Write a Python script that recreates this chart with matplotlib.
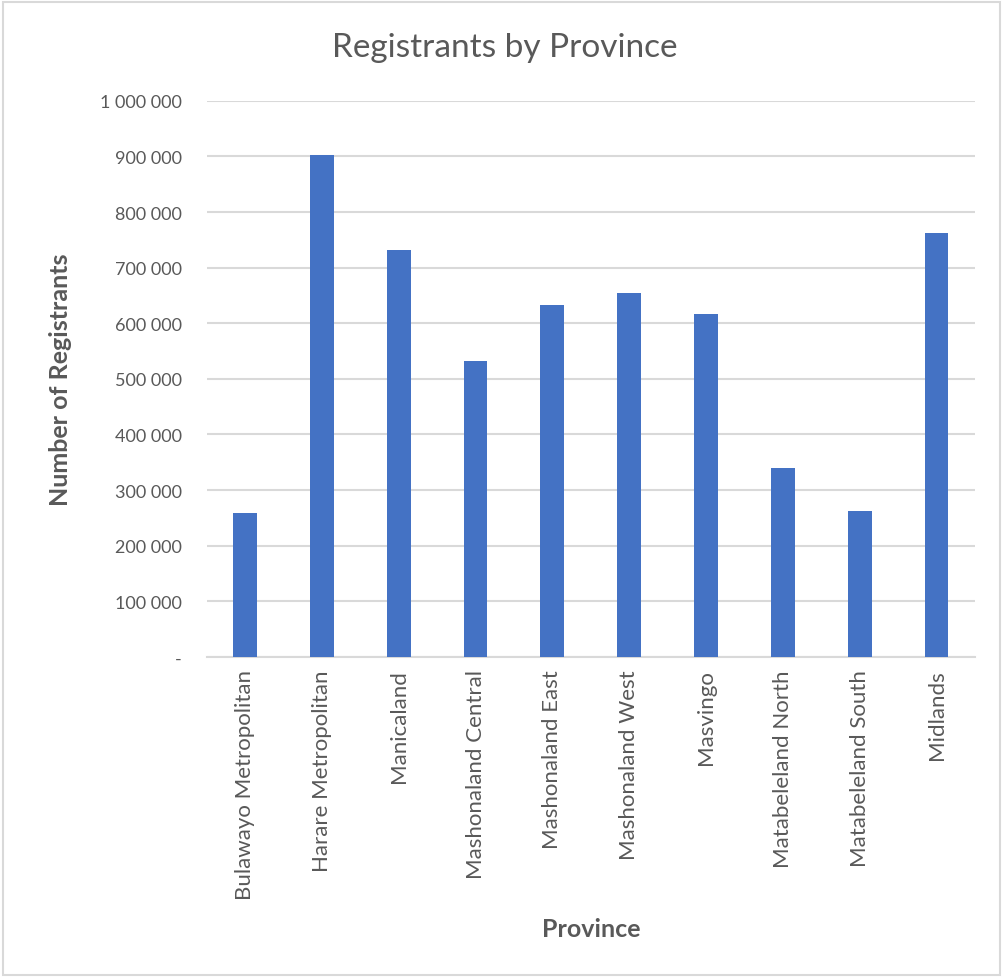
import matplotlib.pyplot as plt
from matplotlib.patches import Rectangle
from matplotlib.ticker import FuncFormatter

provinces = ["Bulawayo Metropolitan", "Harare Metropolitan", "Manicaland",
             "Mashonaland Central", "Mashonaland East", "Mashonaland West",
             "Masvingo", "Matabeleland North", "Matabeleland South", "Midlands"]
registrants = [259000, 902000, 732000, 532000, 633000, 654000,
               616000, 339000, 263000, 763000]
y_ticks = [0, 100000, 200000, 300000, 400000, 500000,
           600000, 700000, 800000, 900000, 1000000]

grey = "#595959"
grid_col = "#D9D9D9"
plt.rcParams['font.family'] = ['Lato', 'DejaVu Sans']

fig = plt.figure(figsize=(10.03, 9.79), dpi=100)
ax = fig.add_axes([0.206, 0.328, 0.766, 0.568])

x = range(len(provinces))
ax.bar(x, registrants, width=0.31, color="#4472C4", zorder=3)

ax.set_xlim(-0.5, len(provinces) - 0.5)
ax.set_ylim(0, 1000000)
ax.set_yticks(y_ticks)


def fmt(v, pos):
    if v == 0:
        return "-"
    return "{:,.0f}".format(v).replace(",", " ")


ax.yaxis.set_major_formatter(FuncFormatter(fmt))
ax.set_xticks(list(x))
ax.set_xticklabels(provinces, rotation=90, fontsize=16, color=grey)
ax.tick_params(axis='y', labelsize=13, labelcolor=grey, length=0, pad=18)
ax.tick_params(axis='x', length=0, pad=9)

ax.grid(axis='y', color=grid_col, linewidth=1.5, zorder=0)
for s in ["top", "right", "left"]:
    ax.spines[s].set_visible(False)
ax.spines["bottom"].set_color(grid_col)
ax.spines["bottom"].set_linewidth(1.5)

ax.set_ylabel("Number of Registrants", fontsize=18, fontweight='bold',
              color=grey, labelpad=20)
ax.set_xlabel("Province", fontsize=18, fontweight='bold', color=grey, labelpad=13)
fig.text(0.503, 0.951, "Registrants by Province", fontsize=24, color=grey,
         ha='center', va='center')

fig.patches.append(Rectangle((0.003, 0.003), 0.994, 0.994, transform=fig.transFigure,
                             fill=False, edgecolor=grid_col, linewidth=1.5))

fig.savefig("out.png", dpi=100)
